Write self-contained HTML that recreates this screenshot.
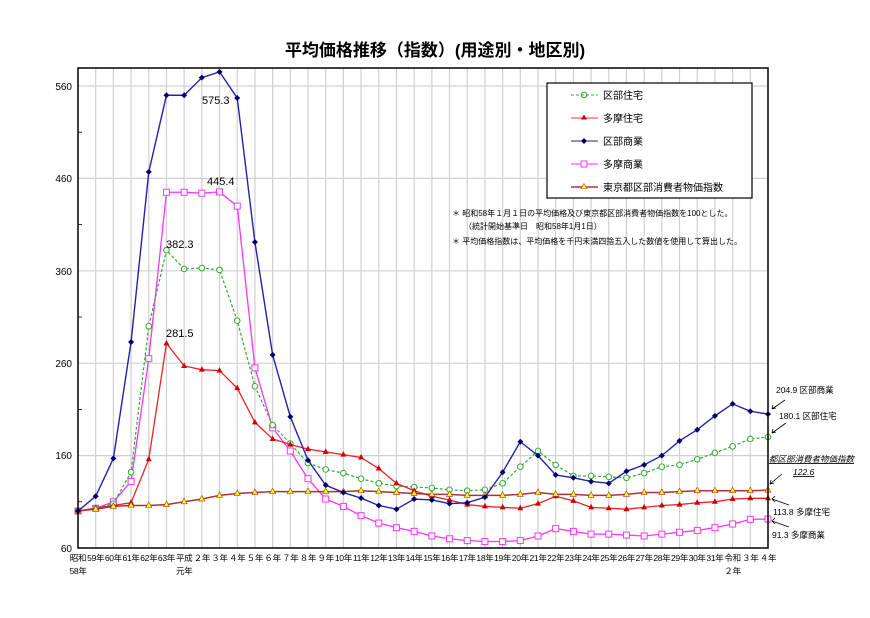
<!DOCTYPE html>
<html><head><meta charset="utf-8"><style>
body{margin:0;background:#fff;}
svg{display:block;font-family:"Liberation Sans","Noto Sans CJK JP",sans-serif;}
</style></head><body>
<svg id="s" width="870" height="618" viewBox="0 0 870 618" xmlns="http://www.w3.org/2000/svg">
<rect width="870" height="618" fill="#fff"/>
<text x="435" y="56" text-anchor="middle" font-size="17" font-weight="bold" fill="#000">平均価格推移（指数）(用途別・地区別)</text>
<g id="grid"></g>
<g font-size="10" fill="#000" text-anchor="end">
<text x="72" y="90">560</text><text x="72" y="182">460</text><text x="72" y="275">360</text>
<text x="72" y="367">260</text><text x="72" y="459">160</text><text x="72" y="552">60</text>
</g>
<g id="xl" font-size="8.5" fill="#000" text-anchor="middle" letter-spacing="-0.3"></g>
<g id="series"></g>
<rect x="78" y="68" width="690" height="480" fill="none" stroke="#000" stroke-width="1.5"/>
<g font-size="11" fill="#000">
<text x="202" y="104">575.3</text><text x="207" y="185">445.4</text>
<text x="166" y="248">382.3</text><text x="166" y="337">281.5</text>
</g>
<rect x="547" y="83" width="205" height="115" fill="#fff" stroke="#000" stroke-width="1.2"/>
<g font-size="10" fill="#000">
<line x1="571" y1="95" x2="598" y2="95" stroke="#3a3" stroke-dasharray="3,2"/><circle cx="584" cy="95" r="2.8" fill="none" stroke="#3a3"/><text x="603" y="99">区部住宅</text>
<line x1="571" y1="118" x2="598" y2="118" stroke="#f33"/><path d="M584,114.5 l3,5 h-6z" fill="#c00"/><text x="603" y="122">多摩住宅</text>
<line x1="571" y1="141" x2="598" y2="141" stroke="#228"/><path d="M584,138 l3,3 l-3,3 l-3,-3z" fill="#006"/><text x="603" y="145">区部商業</text>
<line x1="571" y1="164" x2="598" y2="164" stroke="#f3f"/><rect x="581" y="161" width="6" height="6" fill="#fff" stroke="#f3f"/><text x="603" y="168">多摩商業</text>
<line x1="571" y1="187" x2="598" y2="187" stroke="#a33" stroke-width="1.5"/><path d="M584,183.5 l3,5 h-6z" fill="#ff0" stroke="#a33" stroke-width=".6"/><text x="603" y="191">東京都区部消費者物価指数</text>
</g>
<g font-size="8" fill="#000">
<text x="452" y="216">＊ 昭和58年１月１日の平均価格及び東京都区部消費者物価指数を100とした。</text>
<text x="464" y="229">（統計開始基準日　昭和58年1月1日）</text>
<text x="452" y="244">＊ 平均価格指数は、平均価格を千円未満四捨五入した数値を使用して算出した。</text>
</g>
<g font-size="8.5" fill="#000">
<text x="776" y="393">204.9 区部商業</text>
<text x="779" y="419">180.1 区部住宅</text>
<text x="769" y="462" font-style="italic" text-decoration="underline">都区部消費者物価指数</text>
<text x="793" y="475" font-style="italic" text-decoration="underline">122.6</text>
<text x="773" y="515">113.8 多摩住宅</text>
<text x="772" y="538">91.3 多摩商業</text>
</g>
<g stroke="#000" stroke-width="0.8" fill="none">
<path d="M785,400 L772,409 M772,409 l1,-4 M772,409 l4,-1"/>
<path d="M786,423 L772,433 M772,433 l1,-4 M772,433 l4,-1"/>
<path d="M782,474 L770,484 M770,484 l1,-4 M770,484 l4,-1"/>
<path d="M789,505 L772,499 M772,499 l3,-3 M772,499 l3,3"/>
<path d="M789,527 L772,521 M772,521 l3,-3 M772,521 l3,3"/>
</g>
</svg>
<script>
var NS="http://www.w3.org/2000/svg",X=function(i){return 78+i*690/39},Y=function(v){return 548-(v-60)*0.924};
function el(t,a,p){var e=document.createElementNS(NS,t);for(var k in a)e.setAttribute(k,a[k]);p.appendChild(e);return e;}
var g=document.getElementById('grid');
for(var i=1;i<39;i++)el('line',{x1:X(i),y1:68,x2:X(i),y2:548,stroke:'#d0d0d0','stroke-width':1.2},g);
for(var v=160;v<=560;v+=100)el('line',{x1:78,y1:Y(v),x2:768,y2:Y(v),stroke:'#d0d0d0','stroke-width':1.2},g);
for(var v=110;v<=510;v+=100)el('line',{x1:78,y1:Y(v),x2:82,y2:Y(v),stroke:'#000','stroke-width':.8},g);
var labs=["昭和","59年","60年","61年","62年","63年","平成","２年","３年","４年","５年","６年","７年","８年","９年"];
for(var n=10;n<=31;n++)labs.push(n+"年");labs.push("令和","３年","４年");
var xl=document.getElementById('xl');
labs.forEach(function(t,i){el('text',{x:X(i),y:561},xl).textContent=t;});
el('text',{x:X(0),y:574},xl).textContent="58年";
el('text',{x:X(6),y:574},xl).textContent="元年";
el('text',{x:X(37),y:574},xl).textContent="２年";
var S=document.getElementById('series');
var d={
cpi:[100,102,105,106,106,107,110,113,117,119,120,121,121,121,121,121,122,121,120,119,118,118,117,117,117,118,120,118,118,117,117,118,120,120,121,122,122,122,122,122.6],
tj:[100,103,106,109,156,281.5,257,253,252,233,196,178,172,167,164,161,158,146,130,122,116,112,107,105,104,103,108,116,111,104,103,102,104,106,107,109,110,113,113.8,113.8],
ts:[100,103,110,132,265,445,445,444,445.4,430,255,190,165,135,113,105,95,87,82,78,73,70,68,67,67,68,73,81,78,75,75,74,73,75,77,79,82,86,91,91.3],
kj:[100,103,108,142,300,382.3,362,363,361,306,235,193,173,152,145,141,135,130,127,126,125,123,122,123,130,148,165,150,138,138,137,136,141,148,150,156,163,170,178,180.1],
ks:[100,116,157,283,467,550,550,569,575.3,547,391,269,202,155,128,120,114,106,102,113,112,108,109,115,142,175,160,139,136,132,130,143,150,160,176,188,203,216,208,204.9]};
function line(a,c,w,da){el('polyline',{points:a.map(function(v,i){return X(i)+','+Y(v)}).join(' '),fill:'none',stroke:c,'stroke-width':w,'stroke-dasharray':da||'none'},S);}
line(d.ts,'#f3f',1.3);
d.ts.forEach(function(v,i){el('rect',{x:X(i)-3,y:Y(v)-3,width:6,height:6,fill:'#fff',stroke:'#f3f'},S);});
line(d.kj,'#3a3',1.2,'3,2');
d.kj.forEach(function(v,i){el('circle',{cx:X(i),cy:Y(v),r:2.8,fill:'#fff',stroke:'#3a3'},S);});
line(d.tj,'#e22',1.3);
d.tj.forEach(function(v,i){var x=X(i),y=Y(v);el('path',{d:'M'+x+','+(y-3.5)+' l3,5.5 h-6z',fill:'#c00'},S);});
line(d.cpi,'#a33',1.5);
d.cpi.forEach(function(v,i){var x=X(i),y=Y(v);el('path',{d:'M'+x+','+(y-3.5)+' l3,5.5 h-6z',fill:'#ff0',stroke:'#a33','stroke-width':.6},S);});
line(d.ks,'#22a',1.4);
d.ks.forEach(function(v,i){var x=X(i),y=Y(v);el('path',{d:'M'+x+','+(y-3)+' l3,3 l-3,3 l-3,-3z',fill:'#006'},S);});
</script>
</body></html>
